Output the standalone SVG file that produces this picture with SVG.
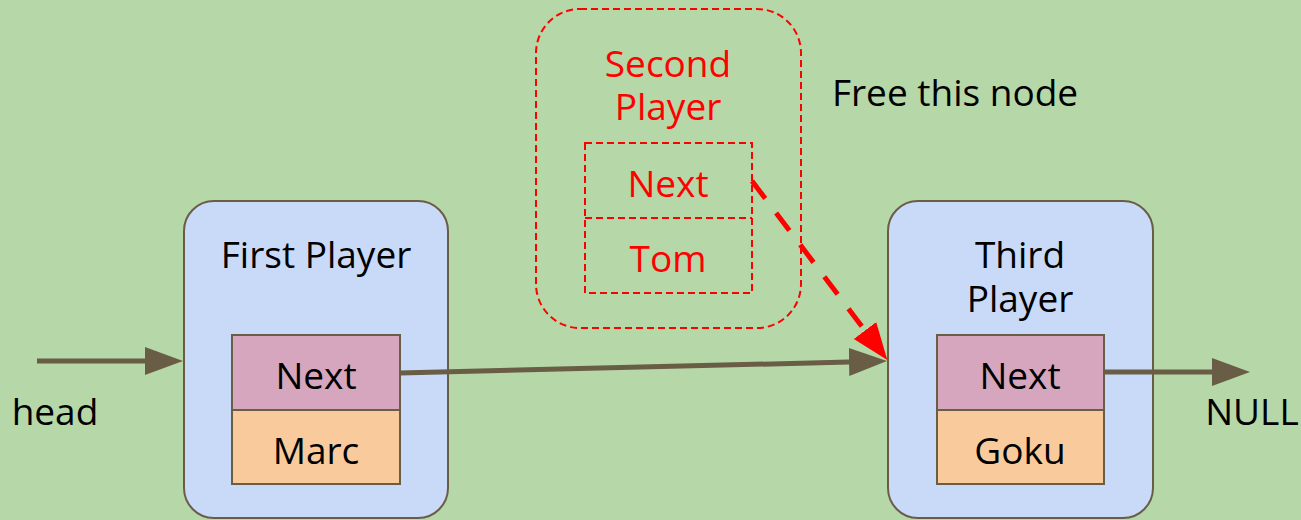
<svg xmlns="http://www.w3.org/2000/svg" width="1301" height="520" viewBox="0 0 1301 520">
<defs>
<style>
text{font-family:"Open Sans","Noto Sans","DejaVu Sans",sans-serif;font-size:37px;text-anchor:middle;fill:#000}
.red{fill:#ff0000}
.node{fill:#c9daf8;stroke:#695d46;stroke-width:2}
.next{fill:#d5a6bd;stroke:#695d46;stroke-width:2}
.val{fill:#f9cb9c;stroke:#695d46;stroke-width:2}
.dash{fill:none;stroke:#ff0000;stroke-width:2;stroke-dasharray:7 4}
.link{fill:none;stroke:#695d46;stroke-width:5;marker-end:url(#ah)}
.free{fill:none;stroke:#ff0000;stroke-width:5;stroke-dasharray:22 18;marker-end:url(#ahr)}
</style>
<marker id="ah" markerUnits="userSpaceOnUse" markerWidth="40" markerHeight="30" refX="0" refY="15" orient="auto" viewBox="0 0 40 30">
<path d="M0,1 L38,15 L0,29 z" fill="#695d46"/>
</marker>
<marker id="ahr" markerUnits="userSpaceOnUse" markerWidth="40" markerHeight="30" refX="0" refY="15" orient="auto" viewBox="0 0 40 30">
<path d="M0,1 L37,15 L0,29 z" fill="#ff0000"/>
</marker>
</defs>
<rect width="1301" height="520" fill="#b6d7a8"/>

<g id="first-player">
<rect class="node" x="184" y="201" width="264" height="317" rx="30"/>
<text x="316" y="268">First Player</text>
<rect class="next" x="232" y="335" width="168" height="75"/>
<text x="316" y="389">Next</text>
<rect class="val" x="232" y="410" width="168" height="74"/>
<text x="316" y="464">Marc</text>
</g>

<g id="second-player">
<rect class="dash" x="536" y="9" width="265" height="319" rx="44"/>
<text class="red" x="668" y="77">Second<tspan x="668" dy="43">Player</tspan></text>
<rect class="dash" x="585" y="143" width="167" height="150"/>
<line class="dash" x1="585" y1="218" x2="752" y2="218"/>
<text class="red" x="668" y="197">Next</text>
<text class="red" x="668" y="272">Tom</text>
</g>

<g id="third-player">
<rect class="node" x="888" y="201" width="265" height="317" rx="30"/>
<text x="1020" y="268">Third<tspan x="1020" dy="44">Player</tspan></text>
<rect class="next" x="937" y="335" width="167" height="75"/>
<text x="1020" y="389">Next</text>
<rect class="val" x="937" y="410" width="167" height="74"/>
<text x="1020" y="464">Goku</text>
</g>

<g id="labels">
<text x="55" y="425">head</text>
<text x="1252" y="425">NULL</text>
<text x="955" y="106">Free this node</text>
</g>

<g id="connectors">
<line class="link" x1="37" y1="361" x2="145" y2="361"/>
<line class="link" x1="400" y1="373" x2="849" y2="362"/>
<line class="link" x1="1104" y1="372" x2="1212" y2="372"/>
<line class="free" x1="752" y1="181" x2="865" y2="330.5"/>
</g>
</svg>
